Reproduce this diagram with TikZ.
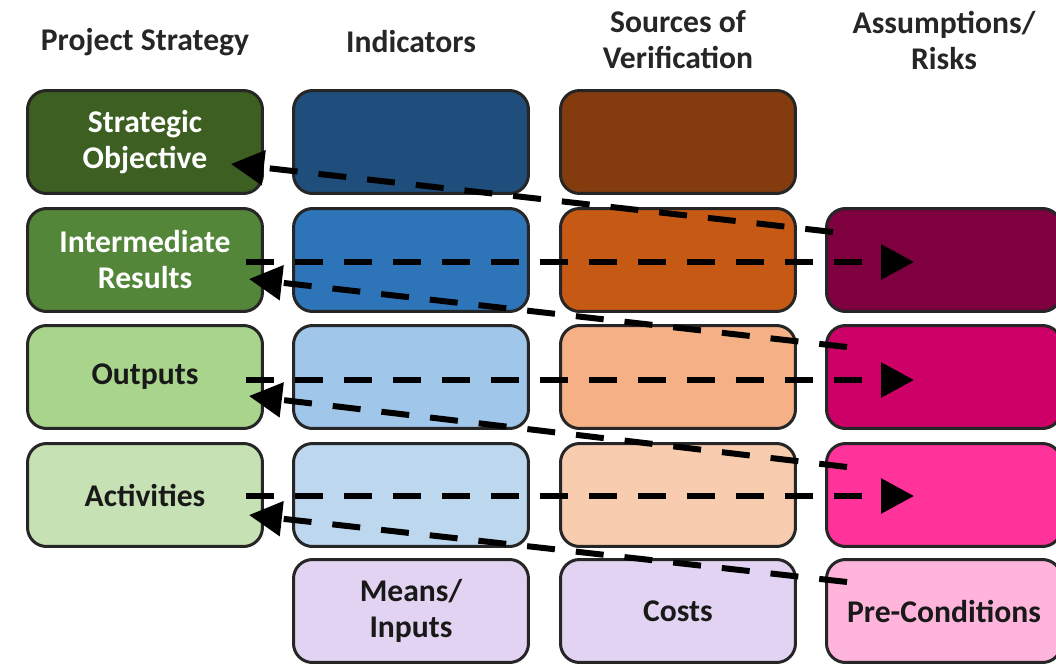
\documentclass[tikz,border=0pt]{standalone}
\usepackage{fontspec}
\setmainfont{Carlito}
\usepackage{tikz}
\usetikzlibrary{arrows.meta}
\usetikzlibrary{positioning}

\definecolor{psA}{HTML}{3D5F22}
\definecolor{psB}{HTML}{548639}
\definecolor{psC}{HTML}{A8D48C}
\definecolor{psD}{HTML}{C6E1B4}
\definecolor{indA}{HTML}{1F4E7C}
\definecolor{indB}{HTML}{2E74B8}
\definecolor{indC}{HTML}{A0C6EA}
\definecolor{indD}{HTML}{BDD7EF}
\definecolor{sovA}{HTML}{843C0F}
\definecolor{sovB}{HTML}{C65A14}
\definecolor{sovC}{HTML}{F5B185}
\definecolor{sovD}{HTML}{F8CCAE}
\definecolor{arB}{HTML}{7E003F}
\definecolor{arC}{HTML}{CC0066}
\definecolor{arD}{HTML}{FF3399}
\definecolor{arE}{HTML}{FFB4DB}
\definecolor{mean}{HTML}{E3D3F2}

\begin{document}
\begin{tikzpicture}[x=0.02cm,y=-0.02cm,>={Triangle[length=0.66cm,width=0.68cm]},
	cell/.style={draw=black!85,line width=0.06cm,rounded corners=0.38cm,minimum width=4.7cm,minimum height=2.06cm,inner sep=0pt,align=center,text=black!90,font=\bfseries\fontsize{18}{20.5}\selectfont},
	head/.style={align=center,text=black!85,font=\bfseries\fontsize{18}{20.5}\selectfont},
	link/.style={line width=0.12cm,dash pattern=on 0.56cm off 0.42cm}]
	\clip (0,0) rectangle (1056,667);
	\node[head] (hps) at (145,42) {Project Strategy};
	\node[head] (hind) at (411,42) {Indicators};
	\node[head] (hsov) at (678,40) {Sources of\\Verification};
	\node[head] (har) at (944,40) {Assumptions/\\Risks};
	\node[cell,fill=psA,text=white] (ps1) at (145,142) {Strategic\\Objective};
	\node[cell,fill=psB,text=white] (ps2) at (145,260) {Intermediate\\Results};
	\node[cell,fill=psC] (ps3) at (145,377) {Outputs};
	\node[cell,fill=psD] (ps4) at (145,495) {Activities};
	\node[cell,fill=indA] (ind1) at (411,142) {};
	\node[cell,fill=indB] (ind2) at (411,260) {};
	\node[cell,fill=indC] (ind3) at (411,377) {};
	\node[cell,fill=indD] (ind4) at (411,495) {};
	\node[cell,fill=mean] (ind5) at (411,611) {Means/\\Inputs};
	\node[cell,fill=sovA] (sov1) at (678,142) {};
	\node[cell,fill=sovB] (sov2) at (678,260) {};
	\node[cell,fill=sovC] (sov3) at (678,377) {};
	\node[cell,fill=sovD] (sov4) at (678,495) {};
	\node[cell,fill=mean] (sov5) at (678,611) {Costs};
	\node[cell,fill=arB] (ar2) at (944,260) {};
	\node[cell,fill=arC] (ar3) at (944,377) {};
	\node[cell,fill=arD] (ar4) at (944,495) {};
	\node[cell,fill=arE] (ar5) at (944,611) {Pre-Conditions};
	\draw[link,->] ([xshift=-0.36cm,yshift=-0.04cm]ps2.east) -- ([xshift=1.78cm,yshift=-0.04cm]ar2.west);
	\draw[link,->] ([xshift=-0.36cm,yshift=-0.06cm]ps3.east) -- ([xshift=1.78cm,yshift=-0.06cm]ar3.west);
	\draw[link,->] ([xshift=-0.36cm,yshift=-0.02cm]ps4.east) -- ([xshift=1.78cm,yshift=-0.02cm]ar4.west);
	\draw[link,->] ([xshift=0.16cm,yshift=-0.5cm]ar2.north west) -- ([xshift=-0.66cm,yshift=-0.44cm]ps1.east);
	\draw[link,->] ([xshift=0.44cm,yshift=-0.46cm]ar3.north west) -- ([xshift=-0.3cm,yshift=-0.38cm]ps2.east);
	\draw[link,->] ([xshift=0.44cm,yshift=-0.5cm]ar4.north west) -- ([xshift=-0.3cm,yshift=-0.38cm]ps3.east);
	\draw[link,->] ([xshift=0.44cm,yshift=-0.48cm]ar5.north west) -- ([xshift=-0.3cm,yshift=-0.4cm]ps4.east);
\end{tikzpicture}
\end{document}
